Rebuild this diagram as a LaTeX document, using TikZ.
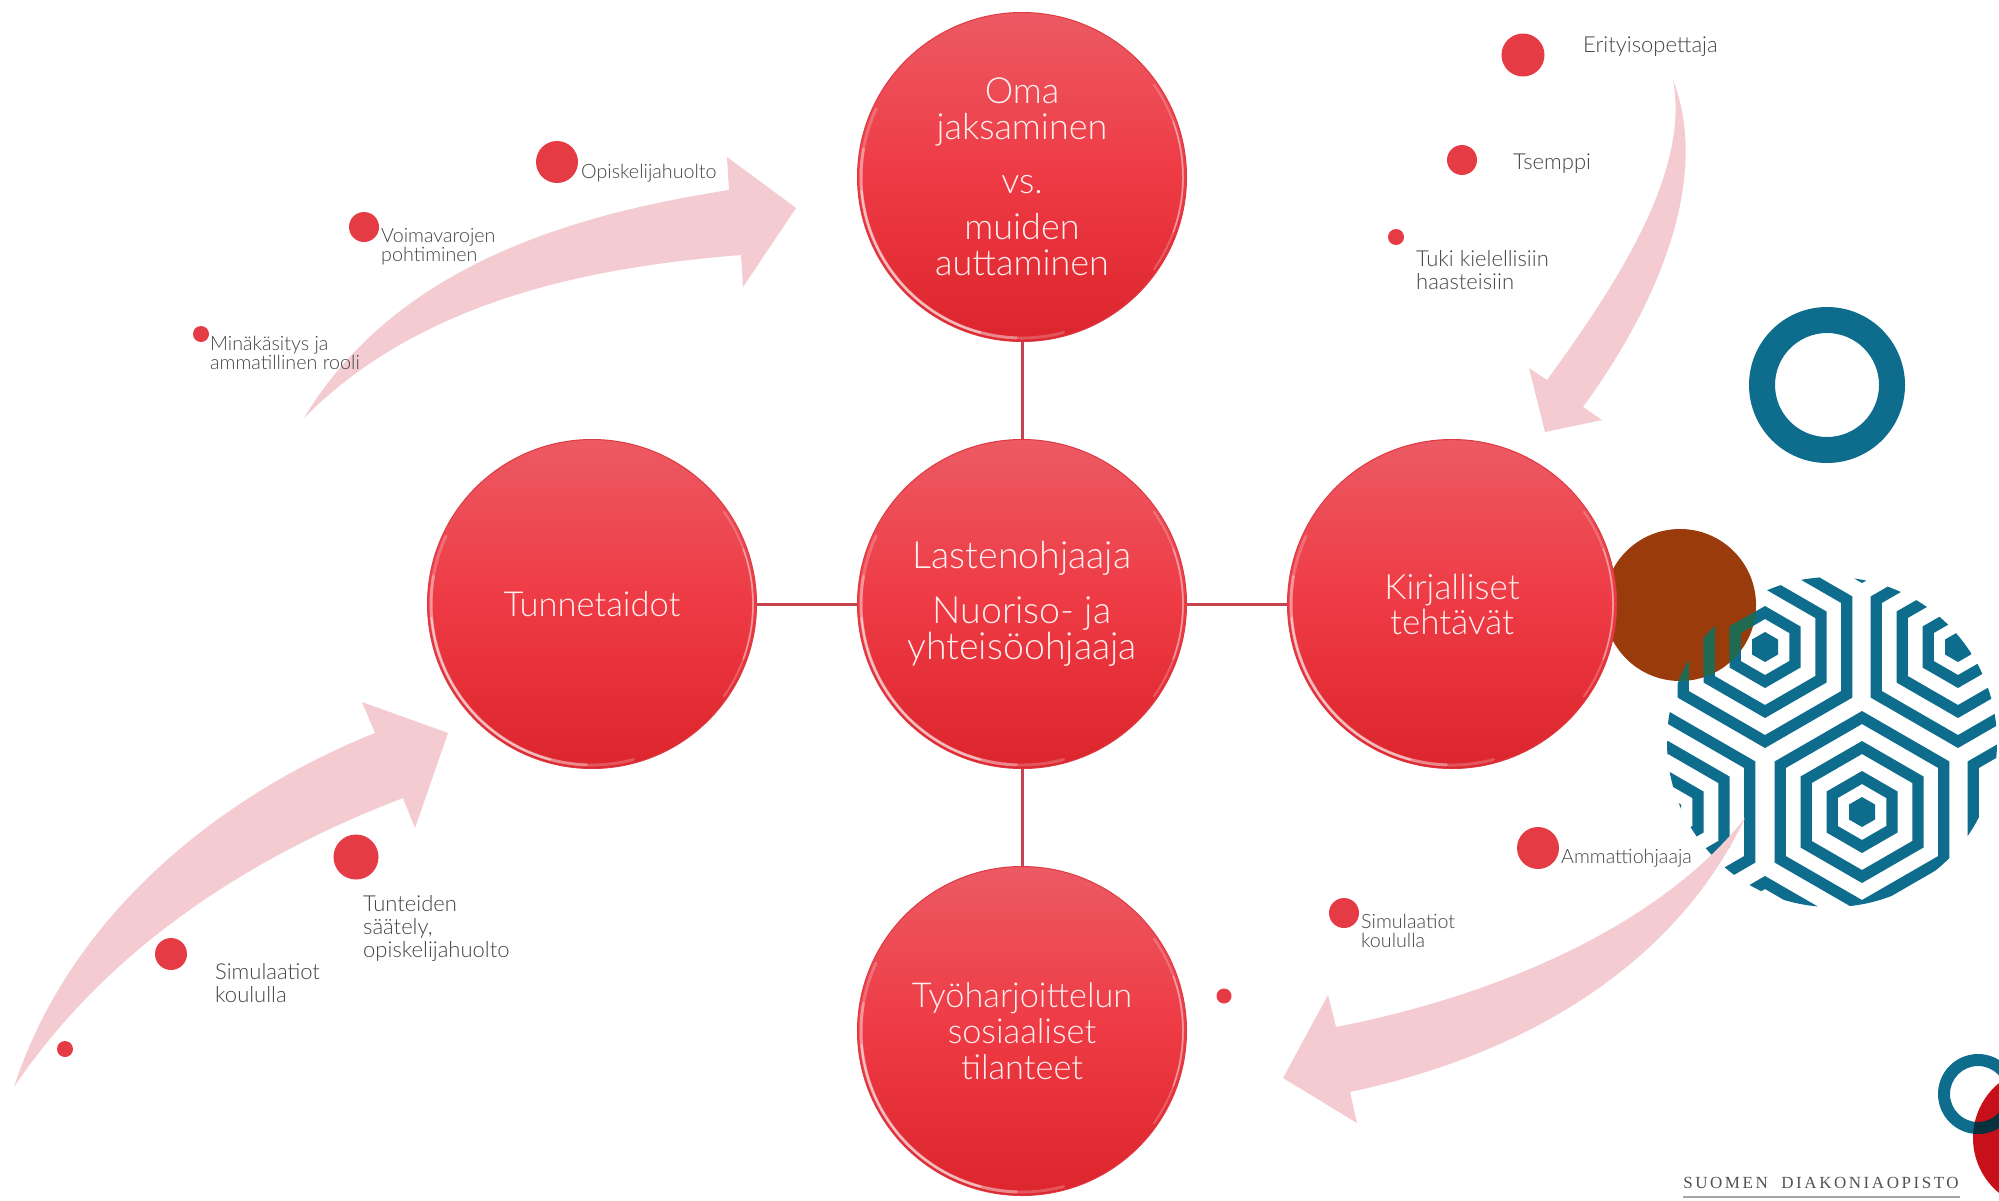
\documentclass[tikz,border=0pt]{standalone}
\usepackage{fontspec}
\setmainfont{Lato}[UprightFont=* Light]
\newfontfamily\logofont[LetterSpace=15,WordSpace=2]{Liberation Serif}
\usetikzlibrary{calc}
\definecolor{teal1}{HTML}{0E6C8C}
\definecolor{brown1}{HTML}{9A3B0C}
\definecolor{overlapgreen}{HTML}{1F6A50}
\definecolor{pink1}{HTML}{F3CBD0}
\definecolor{dotred}{HTML}{E53B45}
\definecolor{linkred}{HTML}{C5444D}
\definecolor{labelgray}{HTML}{444444}
\definecolor{logored}{HTML}{C8101A}
\definecolor{bubbletop}{HTML}{EC5A63}
\definecolor{bubblemid}{HTML}{EE3A44}
\definecolor{bubblelow}{HTML}{DC252C}
\definecolor{bubbleedge}{HTML}{DD3A43}
\tikzset{
  x=1pt,y=-1pt,
  bigbubble/.style={circle,minimum size=329pt,inner sep=0pt,align=center,text=white!94!red,
    top color=bubbletop,bottom color=bubblelow,middle color=bubblemid,draw=bubbleedge,line width=1pt,
    font=\fontsize{36}{36}\selectfont},
  link/.style={draw=linkred,line width=3pt},
  dot/.style={circle,fill=dotred,inner sep=0pt,minimum size=#1},
  lab/.style={anchor=west,inner sep=0pt,align=left,text=labelgray,font=\fontsize{22}{23}\selectfont},
  slab/.style={anchor=west,inner sep=0pt,align=left,text=labelgray,font=\fontsize{19.7}{19}\selectfont},
  rim/.style={draw=white,line cap=round},
  arrowfill/.style={fill=pink1}
}
\newcommand{\hexring}[4]{%
  \fill[#1,even odd rule] ($(#2)+(90:#3)$) -- ($(#2)+(150:#3)$) -- ($(#2)+(210:#3)$) -- ($(#2)+(270:#3)$) -- ($(#2)+(330:#3)$) -- ($(#2)+(30:#3)$) -- cycle
    ($(#2)+(90:#4)$) -- ($(#2)+(150:#4)$) -- ($(#2)+(210:#4)$) -- ($(#2)+(270:#4)$) -- ($(#2)+(330:#4)$) -- ($(#2)+(30:#4)$) -- cycle;}
\newcommand{\hexcluster}[2]{%
  \hexring{#1}{#2}{101}{88}\hexring{#1}{#2}{71}{58}\hexring{#1}{#2}{41}{28}%
  \fill[#1] ($(#2)+(90:15)$) -- ($(#2)+(150:15)$) -- ($(#2)+(210:15)$) -- ($(#2)+(270:15)$) -- ($(#2)+(330:15)$) -- ($(#2)+(30:15)$) -- cycle;}
\newcommand{\hexall}[1]{%
  \foreach \hx/\hy in {1765/647,1958/647,1862/812,1668/812,2055/812,1765/977,1958/977,1862/482}{%
    \coordinate (hh) at (\hx,\hy); \hexcluster{#1}{hh}}}
\begin{document}
\begin{tikzpicture}
\useasboundingbox (0,0) rectangle (1999,1200);
\fill[white] (0,0) rectangle (1999,1200);
% decoration
\fill[teal1,even odd rule] (1827,385) circle[radius=78] (1827,385) circle[radius=52];
\fill[brown1] (1680,605) circle[radius=76];
\begin{scope}
  \clip (1832,742) circle[radius=165];
  \hexall{teal1}
  \begin{scope}
    \clip (1680,605) circle[radius=76];
    \hexall{overlapgreen}
  \end{scope}
\end{scope}
\fill[teal1,even odd rule] (1978,1094) circle[radius=40] (1978,1094) circle[radius=28];
\fill[logored] (2044,1138) circle[radius=71];
\begin{scope}
  \clip (2044,1138) circle[radius=71];
  \fill[black!55!teal1,even odd rule] (1978,1094) circle[radius=40] (1978,1094) circle[radius=28];
\end{scope}
\node[anchor=center,inner sep=0pt,text=black!68,font=\logofont\fontsize{17}{17}\selectfont] (logo) at (1821,1183) {SUOMEN DIAKONIAOPISTO};
\coordinate (logoL) at (1683,1197);
\coordinate (logoR) at (1960,1197);
\draw[black!35,line width=2pt] (logoL) -- (logoR);
% arrows
\fill[arrowfill] (304,418) .. controls (400,258) and (590,212) .. (729,190) -- (727,157) -- (796,208) -- (743,287) -- (741,255) .. controls (620,265) and (430,290) .. (304,418) -- cycle;
\fill[arrowfill] (14,1087) .. controls (70,915) and (220,795) .. (375,733) -- (362,702) -- (448,733) -- (415,828) -- (403,798) .. controls (280,845) and (120,930) .. (14,1087) -- cycle;
\fill[arrowfill] (1673,80) .. controls (1708,170) and (1668,290) .. (1583,407) -- (1602,420) -- (1545,432) -- (1529,368) -- (1547,380) .. controls (1620,280) and (1690,170) .. (1673,80) -- cycle;
\fill[arrowfill] (1745,818) .. controls (1660,925) and (1500,995) .. (1336,1027) -- (1328,995) -- (1283,1078) -- (1357,1123) -- (1350,1092) .. controls (1510,1058) and (1670,975) .. (1745,818) -- cycle;
% main nodes
\node[bigbubble] (top) at (1022,177) {Oma\\jaksaminen\\[18pt]vs.\\[10pt]muiden\\auttaminen};
\node[bigbubble,font=\fontsize{37.5}{36}\selectfont] (mid) at (1022,604) {Lastenohjaaja\\[19pt]Nuoriso- ja\\yhteisöohjaaja};
\node[bigbubble,font=\fontsize{34.5}{36}\selectfont] (lef) at (592,604) {Tunnetaidot};
\node[bigbubble,font=\fontsize{35}{35}\selectfont] (rig) at (1452,604) {Kirjalliset\\tehtävät};
\node[bigbubble,font=\fontsize{34.3}{36}\selectfont] (bot) at (1022,1031) {Työharjoittelun\\sosiaaliset\\tilanteet};
\draw[link] (top) -- (mid);
\draw[link] (mid) -- (bot);
\draw[link] (lef) -- (mid);
\draw[link] (mid) -- (rig);
\foreach \n in {top,mid,lef,rig,bot}{
  \draw[rim,line width=3pt,opacity=.22] ($(\n)+(75:161)$) arc[start angle=75,end angle=205,radius=161];
  \draw[rim,line width=3pt,opacity=.3] ($(\n)+(92:161)$) arc[start angle=92,end angle=190,radius=161];
  \draw[rim,line width=2pt,opacity=.45] ($(\n)+(105:161)$) arc[start angle=105,end angle=175,radius=161];
  \draw[rim,line width=2pt,opacity=.22] ($(\n)+(-35:161)$) arc[start angle=-35,end angle=35,radius=161];
  \draw[rim,line width=1.5pt,opacity=.35] ($(\n)+(-20:161)$) arc[start angle=-20,end angle=20,radius=161];
}
% dots
\node[dot=42pt] (d1) at (557,162) {};
\node[dot=30pt] (d2) at (364,227) {};
\node[dot=16pt] (d3) at (201,334) {};
\node[dot=43pt] (d4) at (1523,55) {};
\node[dot=30pt] (d5) at (1462,160) {};
\node[dot=16pt] (d6) at (1396,237) {};
\node[dot=42pt] (d7) at (1538,848) {};
\node[dot=30pt] (d8) at (1344,913) {};
\node[dot=15pt] (d9) at (1224,996) {};
\node[dot=45pt] (d10) at (356,857) {};
\node[dot=32pt] (d11) at (171,954) {};
\node[dot=16pt] (d12) at (65,1049) {};
% labels
\node[slab] (t1) at (581,173) {Opiskelijahuolto};
\node[slab] (t2) at (381,247) {Voimavarojen\\pohtiminen};
\node[slab] (t3) at (210,353) {Minäkäsitys ja\\ammatillinen rooli};
\node[lab] (t4) at (1583,47) {Erityisopettaja};
\node[lab] (t5) at (1513,164) {Tsemppi};
\node[lab] (t6) at (1416,270) {Tuki kielellisiin\\haasteisiin};
\node[slab] (t7) at (1561,858) {Ammattiohjaaja};
\node[slab] (t8) at (1361,931) {Simulaatiot\\koululla};
\node[lab] (t9) at (363,929) {Tunteiden\\säätely,\\opiskelijahuolto};
\node[lab] (t10) at (215,983) {Simulaatiot\\koululla};
\end{tikzpicture}
\end{document}
